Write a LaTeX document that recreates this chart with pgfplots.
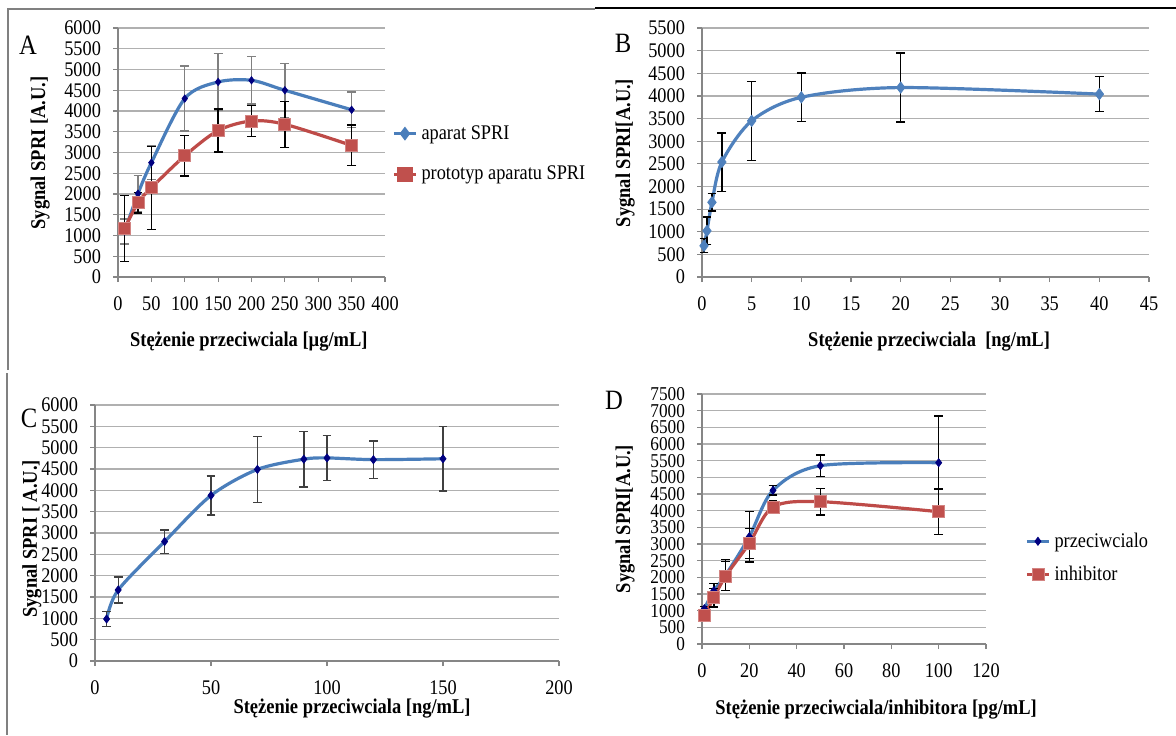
\documentclass[border=0pt]{standalone}
\usepackage{fontspec}
\setmainfont{Liberation Serif}[FakeStretch=0.88]
\usepackage{pgfplots}
\usepackage{pgfplotstable}
\pgfplotsset{compat=1.18}

\definecolor{exblue}{HTML}{4A7EBB}
\definecolor{bblue}{HTML}{4F81BD}
\definecolor{exred}{HTML}{BE4B48}
\definecolor{exredfill}{HTML}{C0504D}
\definecolor{exnavy}{HTML}{000080}
\definecolor{exgrid}{HTML}{B0B0B0}
\definecolor{exaxis}{HTML}{868686}

\pgfplotsset{
  exstyle/.style={
    scale only axis,
    axis lines*=left,
    axis line style={exaxis, line width=0.6pt},
    tick align=outside,
    major tick length=2.5pt,
    tick style={exaxis, line width=0.6pt},
    ymajorgrids,
    grid style={exgrid, line width=0.6pt},
    /pgf/number format/assume math mode=true,
    /pgf/number format/1000 sep={},
    ticklabel style={font=\fontsize{10.4}{12}\selectfont},
    xticklabel style={yshift=-4pt},
    yticklabel style={xshift=-2.5pt},
    label style={font=\fontsize{10.5}{12}\selectfont\bfseries},
    legend style={draw=none, fill=none, inner sep=0pt,
      font=\fontsize{10.4}{12}\selectfont},
    legend cell align=left,
    legend image code/.code={
      \draw[mark repeat=2,mark phase=2,##1] plot coordinates {(0pt,0pt) (5.5pt,0pt) (11pt,0pt)};},
    clip=false,
  },
  ebar/.style={
    error bars/y dir=both, error bars/y explicit,
    error bars/error bar style={#1, line width=0.7pt},
    error bars/error mark options={rotate=90, #1, mark size=2.2pt, line width=0.7pt}},
}

% panel A
\pgfplotstableread{
x y e
10 1100 300
30 2010 430
50 2755 400
100 4300 785
150 4700 680
200 4740 570
250 4500 650
350 4030 430
}\dataAblue
\pgfplotstableread{
x y e
10 1175 795
30 1790 250
50 2150 1000
100 2920 490
150 3530 515
200 3760 375
250 3680 555
350 3170 490
}\dataAred
% panel B
\pgfplotstableread{
x y e
0.2 690 155
0.5 1020 305
1 1650 195
2 2540 645
5 3450 870
10 3970 540
20 4185 760
40 4040 390
}\dataB
% panel C
\pgfplotstableread{
x y e
5 985 175
10 1665 305
30 2800 275
50 3880 455
70 4490 770
90 4730 650
100 4760 527
120 4720 437
150 4740 755
}\dataC
% panel D
\pgfplotstableread{
x y e
1 1060 60
5 1600 220
10 2070 470
20 3220 760
30 4610 140
50 5350 325
100 5440 1400
}\dataDblue
\pgfplotstableread{
x y e
1 850 60
5 1390 280
10 2040 430
20 3020 450
30 4110 200
50 4270 395
100 3970 685
}\dataDred

\begin{document}
\begin{tikzpicture}
\path[use as bounding box, fill=white] (0,0) rectangle (588pt,-367.5pt);

% frame lines of the source document
\draw[gray, line width=0.7pt] (4pt,-185pt) -- (4pt,-4.5pt) -- (297.5pt,-4.5pt);
\draw[black, line width=0.9pt] (297.5pt,-4pt) -- (588pt,-4pt);
\draw[gray, line width=0.7pt] (3.5pt,-186.5pt) -- (3.5pt,-367.5pt);

% ---------- A ----------
\begin{axis}[exstyle,
  at={(59pt,-138.5pt)}, anchor=south west,
  width=133.5pt, height=124.5pt,
  xmin=0, xmax=400, xtick={0,50,...,400},
  ymin=0, ymax=6000, ytick={0,500,...,6000},
  xlabel={Stężenie przeciwciala [µg/mL]},
  ylabel={Sygnal SPRI [A.U.]},
  xlabel style={at={(axis description cs:0.49,-0.261)}, anchor=center},
  ylabel style={at={(axis description cs:-0.292,0.498)}, anchor=center},
  legend style={at={(1.026,0.494)}, anchor=west, row sep=8pt},
]
\addplot[exblue, line width=1.6pt, smooth, mark=diamond*,
  mark options={exnavy, mark size=1.8pt, line width=0.4pt},
  forget plot, ebar=gray] table[x=x, y=y, y error=e] {\dataAblue};
\addplot[exred, line width=1.6pt, smooth, mark=square*,
  mark options={exredfill, draw=exredfill!70!white, mark size=3pt, line width=0.4pt},
  forget plot, ebar=black] table[x=x, y=y, y error=e] {\dataAred};
\addlegendimage{exblue, line width=1.6pt, mark=diamond*, mark options={exblue, mark size=2.2pt}}
\addlegendentry{aparat SPRI}
\addlegendimage{exred, line width=1.6pt, mark=square*, mark options={exredfill, mark size=3pt}}
\addlegendentry{prototyp aparatu SPRI}
\end{axis}
\node[font=\fontsize{14}{14}\selectfont] at (14pt,-22.5pt) {A};

% ---------- B ----------
\begin{axis}[exstyle,
  at={(351pt,-138.5pt)}, anchor=south west,
  width=223.5pt, height=124.5pt,
  xmin=0, xmax=45, xtick={0,5,...,45},
  ymin=0, ymax=5500, ytick={0,500,...,5500},
  xlabel={Stężenie przeciwciala \ [ng/mL]},
  ylabel={Sygnal SPRI[A.U.]},
  xlabel style={at={(axis description cs:0.508,-0.261)}, anchor=center},
  ylabel style={at={(axis description cs:-0.172,0.498)}, anchor=center},
]
\addplot[bblue, line width=1.6pt, smooth, mark=diamond*,
  mark options={bblue, mark size=2.8pt, line width=0.4pt},
  ebar=black] table[x=x, y=y, y error=e] {\dataB};
\end{axis}
\node[font=\fontsize{14}{14}\selectfont] at (311.5pt,-21.5pt) {B};

% ---------- C ----------
\begin{axis}[exstyle,
  at={(47.5pt,-330.5pt)}, anchor=south west,
  width=232pt, height=128pt,
  xmin=0, xmax=200, xtick={0,50,...,200},
  ymin=0, ymax=6000, ytick={0,500,...,6000},
  xlabel={Stężenie przeciwciala [ng/mL]},
  ylabel={Sygnal SPRI [ A.U.]},
  xlabel style={at={(axis description cs:0.554,-0.184)}, anchor=center},
  ylabel style={at={(axis description cs:-0.136,0.477)}, anchor=center},
]
\addplot[exblue, line width=1.6pt, smooth, mark=diamond*,
  mark options={exnavy, mark size=2pt, line width=0.4pt},
  ebar=black!75] table[x=x, y=y, y error=e] {\dataC};
\end{axis}
\node[font=\fontsize{14}{14}\selectfont] at (14.5pt,-209pt) {C};

% ---------- D ----------
\begin{axis}[exstyle,
  at={(351pt,-322pt)}, anchor=south west,
  width=142pt, height=125pt,
  xmin=0, xmax=120, xtick={0,20,...,120},
  ymin=0, ymax=7500, ytick={0,500,...,7500},
  yticklabel style={font=\fontsize{9.8}{10}\selectfont},
  xlabel={Stężenie przeciwciala/inhibitora [pg/mL]},
  ylabel={Sygnal SPRI[A.U.]},
  xlabel style={at={(axis description cs:0.613,-0.264)}, anchor=center},
  ylabel style={at={(axis description cs:-0.271,0.5)}, anchor=center},
  legend style={at={(1.137,0.344)}, anchor=west, row sep=4pt},
]
\addplot[exblue, line width=1.6pt, smooth, mark=diamond*,
  mark options={exnavy, mark size=2pt, line width=0.4pt},
  ebar=black] table[x=x, y=y, y error=e] {\dataDblue};
\addlegendentry{przeciwcialo}
\addplot[exred, line width=1.6pt, smooth, mark=square*,
  mark options={exredfill, draw=exredfill!70!white, mark size=3pt, line width=0.4pt},
  ebar=black] table[x=x, y=y, y error=e] {\dataDred};
\addlegendentry{inhibitor}
\end{axis}
\node[font=\fontsize{14}{14}\selectfont] at (307pt,-200pt) {D};
\end{tikzpicture}
\end{document}
